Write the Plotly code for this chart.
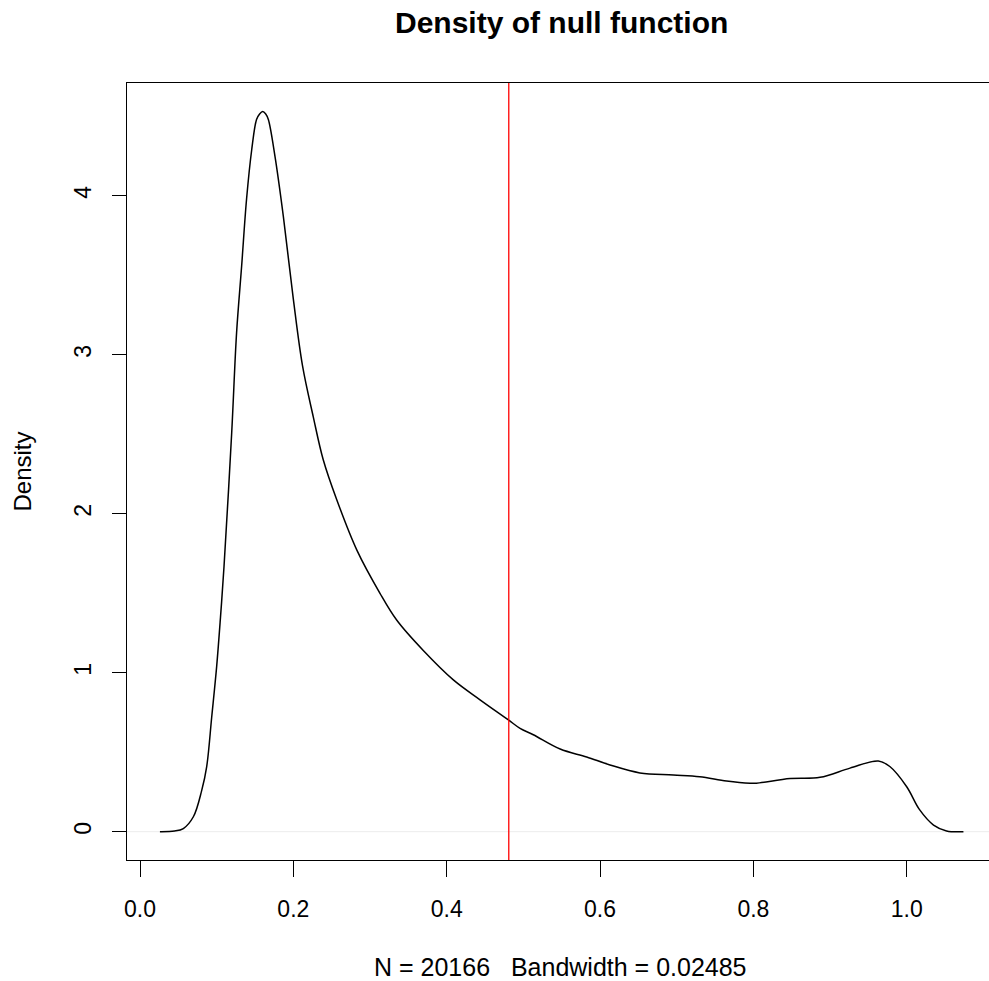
import plotly.graph_objects as go

# Density curve
dens_x = [0.026, 0.045, 0.0565, 0.0696, 0.0805, 0.087, 0.0935, 0.100, 0.105, 0.1096, 0.1196,
          0.126, 0.1326, 0.139, 0.1457, 0.152, 0.156, 0.160, 0.164, 0.1674, 0.176, 0.187, 0.200,
          0.212, 0.226, 0.239, 0.2565, 0.283, 0.313, 0.335, 0.3695, 0.4087, 0.4435,
          0.480, 0.4957, 0.513, 0.548, 0.5826, 0.613, 0.652, 0.6957, 0.730, 0.765,
          0.7957, 0.804, 0.848, 0.887, 0.926, 0.963, 0.978, 1.000, 1.017, 1.035,
          1.052, 1.074]
dens_y = [0.0, 0.004, 0.02, 0.094, 0.26, 0.41, 0.72, 1.04, 1.35, 1.67, 2.51,
          3.14, 3.56, 3.98, 4.29, 4.48, 4.515, 4.53, 4.515, 4.48, 4.25, 3.87, 3.35,
          2.93, 2.61, 2.34, 2.09, 1.77, 1.50, 1.33, 1.14, 0.955, 0.83,
          0.705, 0.65, 0.61, 0.52, 0.47, 0.42, 0.37, 0.357, 0.346, 0.319,
          0.305, 0.305, 0.334, 0.342, 0.40, 0.445, 0.41, 0.283, 0.137, 0.042,
          0.005, 0.0]

observed_value = 0.481
x_ticks = [0.0, 0.2, 0.4, 0.6, 0.8, 1.0]
x_tick_labels = ["0.0", "0.2", "0.4", "0.6", "0.8", "1.0"]
y_ticks = [0, 1, 2, 3, 4]
y_tick_labels = ["0", "1", "2", "3", "4"]

title_text = "Density of null function"
sub_text = "N = 20166   Bandwidth = 0.02485"
y_title = "Density"

FONT = "Liberation Sans, Arial, Helvetica, sans-serif"

fig = go.Figure()
fig.add_trace(go.Scatter(x=dens_x, y=dens_y, mode="lines",
                         line=dict(color="black", width=1.5, shape="spline", smoothing=1.0),
                         hoverinfo="skip", showlegend=False))

# faint zero line and red observed value line
fig.add_shape(type="line", xref="paper", x0=0, x1=1, yref="y", y0=0, y1=0,
              line=dict(color="#ececec", width=1), layer="below")
fig.add_shape(type="line", xref="x", x0=observed_value, x1=observed_value,
              yref="paper", y0=0, y1=1, line=dict(color="red", width=1.3))

W, H = 989, 981
L, T, B = 127, 83, 121
px_per_unit_x = 766.7
x0_px = 140
x_lo = (L - x0_px) / px_per_unit_x
x_hi = (W - x0_px) / px_per_unit_x

fig.update_layout(
    width=W, height=H,
    margin=dict(l=L, r=0, t=T, b=B),
    paper_bgcolor="white", plot_bgcolor="white",
    font=dict(family=FONT, size=23, color="black"),
    showlegend=False,
    xaxis=dict(range=[x_lo, x_hi], tickvals=x_ticks, ticktext=x_tick_labels,
               showgrid=False, zeroline=False, showline=True, linecolor="black",
               linewidth=1.3, mirror=True, ticks="outside", ticklen=16,
               tickwidth=1.3, tickcolor="black", ticklabelstandoff=12,
               tickfont=dict(size=23, family=FONT)),
    yaxis=dict(range=[-0.178, 4.71], tickvals=y_ticks, ticktext=y_tick_labels,
               showgrid=False, zeroline=False, showline=True, linecolor="black",
               linewidth=1.3, ticks="outside", ticklen=14, tickwidth=1.3,
               tickcolor="black", tickangle=-90, ticklabelstandoff=12,
               tickfont=dict(size=23, family=FONT)),
    annotations=[
        dict(text="<b>" + title_text + "</b>", xref="paper", yref="paper",
             x=(561 - L) / (W - L), y=1 + (T - 22) / (H - T - B),
             xanchor="center", yanchor="middle", showarrow=False,
             font=dict(size=30, family=FONT)),
        dict(text=sub_text, xref="paper", yref="paper",
             x=(560 - L) / (W - L), y=-(967 - (H - B)) / (H - T - B),
             xanchor="center", yanchor="middle", showarrow=False,
             font=dict(size=25, family=FONT)),
        dict(text=y_title, xref="paper", yref="paper",
             x=-(L - 22) / (W - L), y=0.5, textangle=-90,
             xanchor="center", yanchor="middle", showarrow=False,
             font=dict(size=24, family=FONT)),
    ],
)

fig.write_html("out.html")
